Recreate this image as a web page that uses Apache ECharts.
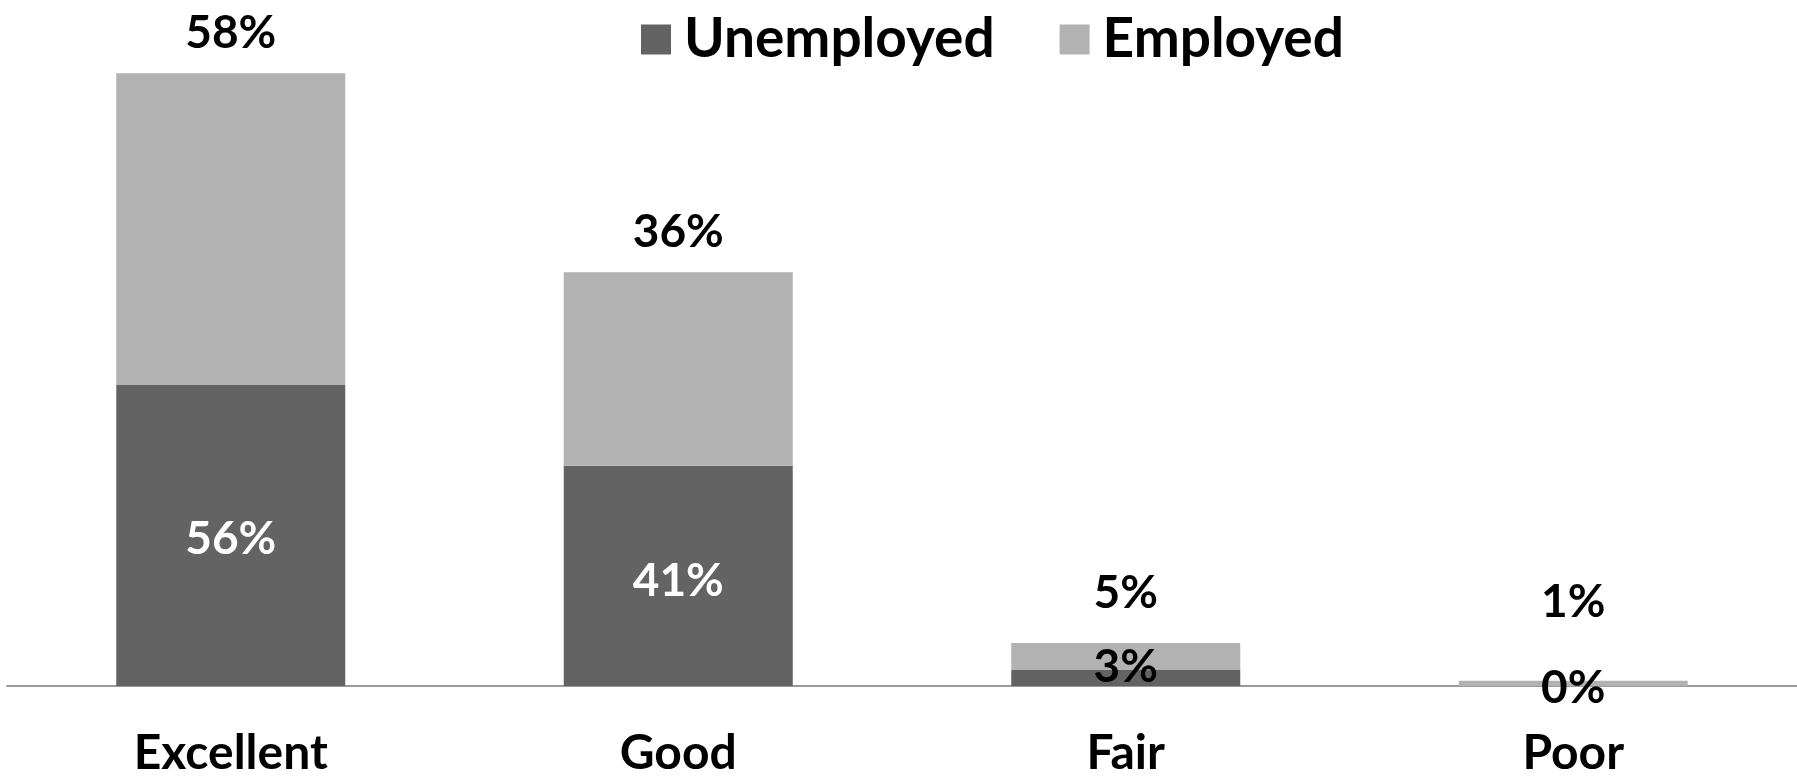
<!DOCTYPE html>
<html>
<head>
<meta charset="utf-8">
<script src="https://cdn.jsdelivr.net/npm/echarts@6/dist/echarts.min.js"></script>
<style>
html,body{margin:0;padding:0;background:#fff;}
#main{width:1797px;height:779px;}
</style>
</head>
<body>
<div id="main"></div>
<script>
const categories = ['Excellent', 'Good', 'Fair', 'Poor'];
const unemployed = [56, 41, 3, 0];
const employed = [58, 36, 5, 1];
const seriesNames = ['Unemployed', 'Employed'];

const FONT = 'Lato';
const chart = echarts.init(document.getElementById('main'));

const topOffsets = [1, 1, -9, -37];
const insideOffsets = [4, 5, -11, 2];
const insideColors = ['#ffffff', '#ffffff', '#000000', '#000000'];

chart.setOption({
  animation: false,
  legend: {
    data: seriesNames,
    top: 7,
    left: 636,
    itemWidth: 30,
    itemHeight: 30,
    itemGap: 65,
    icon: 'rect',
    textStyle: { fontFamily: FONT, fontWeight: 'bold', fontSize: 55, color: '#000', padding: [0, 0, 0, 8] }
  },
  grid: { left: 7, right: 0, top: 41, bottom: 89, containLabel: false },
  xAxis: {
    type: 'category',
    data: categories,
    axisTick: { show: false },
    axisLine: { lineStyle: { color: '#9a9a9a', width: 2 } },
    axisLabel: { margin: 43, fontFamily: FONT, fontWeight: 'bold', fontSize: 48, lineHeight: 50, color: '#000' }
  },
  yAxis: { type: 'value', min: 0, max: 120, show: false, splitLine: { show: false } },
  series: [
    {
      name: seriesNames[0],
      type: 'bar',
      stack: 'a',
      barWidth: 229,
      itemStyle: { color: '#636363' },
      data: unemployed.map((v, i) => ({
        value: v,
        label: { offset: [0, insideOffsets[i]], color: insideColors[i] }
      })),
      label: {
        show: true, position: 'inside',
        formatter: '{c}%',
        fontFamily: FONT, fontWeight: 'bold', fontSize: 46, lineHeight: 50
      }
    },
    {
      name: seriesNames[1],
      type: 'bar',
      stack: 'a',
      barWidth: 229,
      itemStyle: { color: '#b2b2b2' },
      data: employed.map((v, i) => ({
        value: v,
        label: { offset: [0, topOffsets[i]] }
      })),
      label: {
        show: true, position: 'top', distance: 16,
        formatter: '{c}%', color: '#000',
        fontFamily: FONT, fontWeight: 'bold', fontSize: 46, lineHeight: 50
      }
    }
  ]
});
</script>
</body>
</html>
